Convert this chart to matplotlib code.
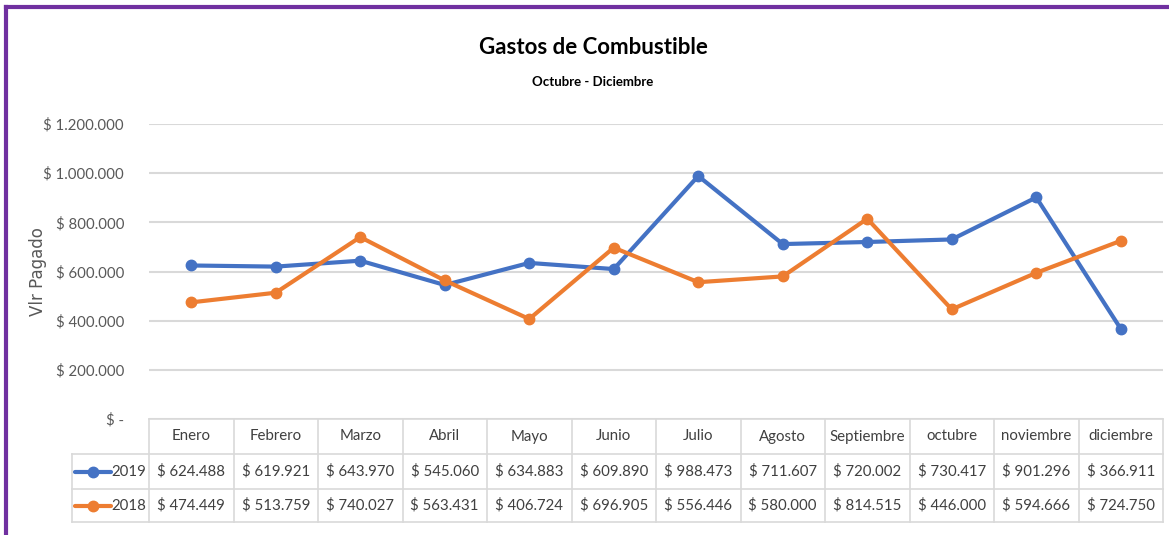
import matplotlib
matplotlib.use("Agg")
import matplotlib.pyplot as plt
from matplotlib.transforms import blended_transform_factory
from matplotlib.lines import Line2D

months = ["Enero", "Febrero", "Marzo", "Abril", "Mayo", "Junio", "Julio", "Agosto",
          "Septiembre", "octubre", "noviembre", "diciembre"]
v2019 = [624488, 619921, 643970, 545060, 634883, 609890, 988473, 711607,
         720002, 730417, 901296, 366911]
v2018 = [474449, 513759, 740027, 563431, 406724, 696905, 556446, 580000,
         814515, 446000, 594666, 724750]
series_names = ["2019", "2018"]
yticks = [0, 200000, 400000, 600000, 800000, 1000000, 1200000]

BLUE = "#4472C4"
ORANGE = "#ED7D31"
TXT = "#404040"
GRID = "#D9D9D9"
FONT = "Lato"
FS = 10.8

def money(v):
    if v == 0:
        return "$ -"
    return "$ " + f"{v:,.0f}".replace(",", ".")

W, H = 1169, 535
fig = plt.figure(figsize=(W / 100, H / 100), dpi=100)
ax = fig.add_axes([149 / W, (H - 419) / H, (1163 - 149) / W, (419 - 124) / H])

x = list(range(len(months)))
ax.plot(x, v2019, color=BLUE, lw=3, marker="o", ms=7.5, solid_capstyle="round", zorder=3)
ax.plot(x, v2018, color=ORANGE, lw=3, marker="o", ms=7.5, solid_capstyle="round", zorder=3)

ax.set_xlim(-0.5, len(months) - 0.5)
ax.set_ylim(0, 1200000)
ax.set_yticks(yticks)
ax.set_yticklabels([money(v) for v in yticks], fontfamily=FONT, fontsize=FS, color="#595959")
ax.tick_params(axis="y", length=0, pad=18)
ax.set_xticks([])
for s in ax.spines.values():
    s.set_visible(False)
ax.grid(axis="y", color=GRID, lw=1.5)
ax.set_axisbelow(True)

fig.text(38 / W, 1 - 272 / H, "Vlr Pagado", fontfamily="DejaVu Sans", fontsize=12,
         color="#595959", rotation=90, ha="center", va="center")

# data table
tr = blended_transform_factory(ax.transData, ax.transAxes)
AH = 419 - 124
r0, r1, r2, r3 = 0, -35 / AH, -70 / AH, -103 / AH
lx = -0.5 - (149 - 72) / ((1163 - 149) / 12)
lw_t = 1.2
ax.plot([-0.5, 11.5], [r0, r0], transform=tr, color=GRID, lw=lw_t, clip_on=False)
for yy in (r1, r2, r3):
    ax.plot([lx, 11.5], [yy, yy], transform=tr, color=GRID, lw=lw_t, clip_on=False)
for i in range(len(months) + 1):
    ax.plot([i - 0.5, i - 0.5], [r0, r3], transform=tr, color=GRID, lw=lw_t, clip_on=False)
ax.plot([lx, lx], [r1, r3], transform=tr, color=GRID, lw=lw_t, clip_on=False)

tk = dict(transform=tr, fontfamily=FONT, fontsize=FS, color=TXT, ha="center", va="center")
for i, m in enumerate(months):
    ax.text(i, (r0 + r1) / 2, m, **tk)
    ax.text(i, (r1 + r2) / 2, money(v2019[i]), **tk)
    ax.text(i, (r2 + r3) / 2, money(v2018[i]), **tk)

for (yy0, yy1), name, col in [((r1, r2), series_names[0], BLUE), ((r2, r3), series_names[1], ORANGE)]:
    yc = (yy0 + yy1) / 2
    k0 = lx + 0.04
    ax.add_line(Line2D([k0, k0 + 0.42], [yc, yc], transform=tr, color=col, lw=3,
                       solid_capstyle="round", clip_on=False))
    ax.add_line(Line2D([k0 + 0.21], [yc], transform=tr, color=col, marker="o", ms=7.5,
                       clip_on=False, lw=0))
    ax.text(-0.53, yc, name, transform=tr, fontfamily=FONT, fontsize=FS, color=TXT,
            ha="right", va="center")

fig.text(593 / W, 1 - 48 / H, "Gastos de Combustible", fontfamily=FONT, fontweight="bold",
         fontsize=16, ha="center", va="center", color="black")
fig.text(593 / W, 1 - 82 / H, "Octubre - Diciembre", fontfamily=FONT, fontweight="bold",
         fontsize=9.5, ha="center", va="center", color="black")

fig.add_artist(Line2D([6 / W, 1], [1 - 7 / H, 1 - 7 / H], transform=fig.transFigure,
                      color="#7030A0", lw=3))
fig.add_artist(Line2D([6 / W, 6 / W], [0, 1 - 7 / H], transform=fig.transFigure,
                      color="#7030A0", lw=3))

fig.savefig("out.png", dpi=100)
